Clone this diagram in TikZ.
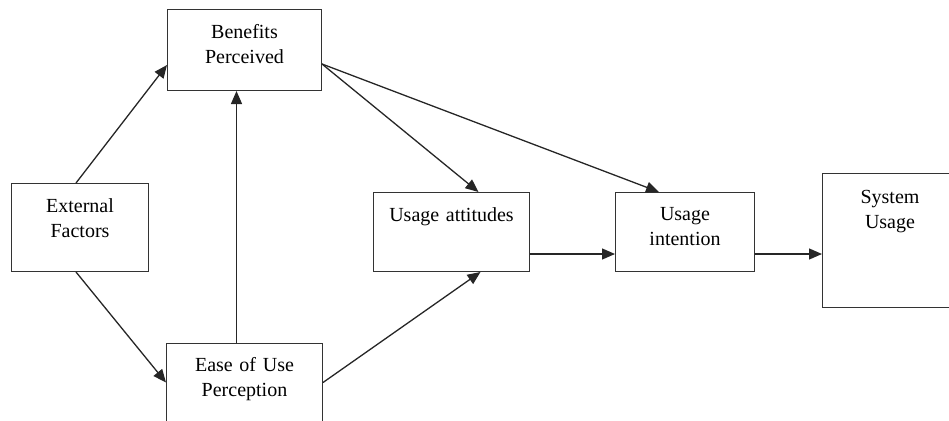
\documentclass[tikz,border=0pt]{standalone}
\usepackage{fontspec}
\setmainfont{Liberation Serif}
\usepackage{tikz}
\usetikzlibrary{arrows.meta,calc}

\begin{document}
\begin{tikzpicture}[x=1pt, y=-1pt, box/.style={draw=black!80,line width=1pt,anchor=north west,inner sep=0pt,
  align=center,font=\fontsize{20}{25}\selectfont}, link/.style={->,draw=black!85,line width=1.3pt},
  >={Triangle[length=13pt,width=11pt]}]
  \path[use as bounding box] (0,0) rectangle (949,420);
  \clip (0,0) rectangle (949,420);
  \node[box, text width=137pt, text height=29pt, text depth=59pt] (ext) at (11,183) {External\\Factors};
  \node[box, text width=154pt, text height=29pt, text depth=52pt] (ben) at (167,9) {Benefits\\Perceived};
  \node[box, text width=156pt, text height=28pt, text depth=50pt] (ease) at (166,343) {Ease of Use\\Perception};
  \node[box, text width=156pt, text height=29pt, text depth=50pt] (att) at (373,192) {Usage attitudes};
  \node[box, text width=139pt, text height=28pt, text depth=51pt] (int) at (615,192) {Usage\\intention};
  \node[box, text width=135pt, text height=30pt, text depth=104pt] (sys) at (822,173) {System\\Usage};
  \draw[link]([xshift=-4pt]ext.north)--([yshift=-15pt]ben.west);
  \draw[link]([xshift=-4pt]ext.south)--(ease.west);
  \draw[link]([xshift=-8pt]ease.north)--([xshift=-8pt]ben.south);
  \draw[link]([yshift=-14pt]ben.east)--([xshift=27pt]att.north);
  \draw[link]([yshift=-14pt]ben.east)--([xshift=-26pt]int.north);
  \draw[link](ease.east)--([xshift=29pt]att.south);
  \draw[link]([yshift=-22pt]att.east)--([yshift=-22pt]int.west);
  \draw[link]([yshift=-22pt]int.east)--([yshift=-22pt]int.east -| sys.west);
\end{tikzpicture}
\end{document}
